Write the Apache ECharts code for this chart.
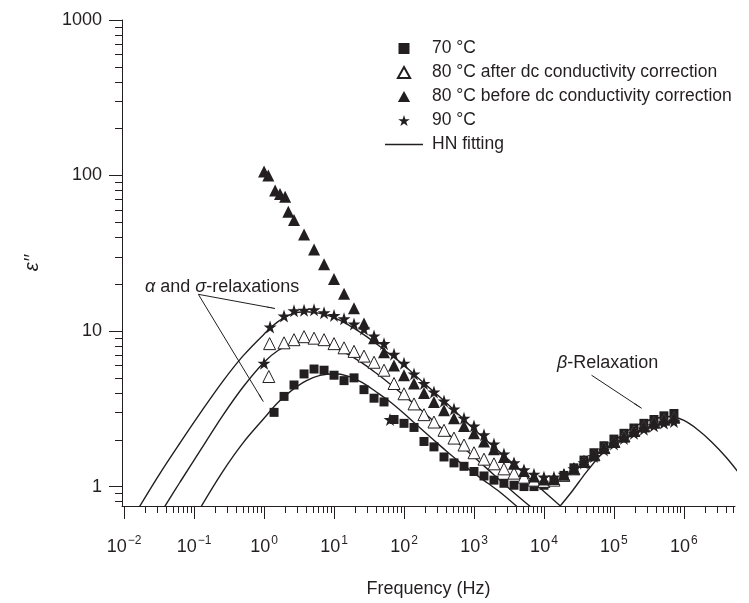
<!DOCTYPE html>
<html><head><meta charset="utf-8">
<script src="https://cdn.jsdelivr.net/npm/echarts@6/dist/echarts.min.js"></script>
<style>html,body{margin:0;padding:0;background:#fff}#c{width:749px;height:603px}</style>
</head><body><div id="c"></div>
<script>
// ---------- data ----------
const freqGrid = [1,1.39,1.93,2.68,3.73,5.18,7.2,10,13.9,19.3,26.8,37.3,51.8,72,100,139,193,268,373,518,720,1000,1390,1930,2680,3730,5180,7200,10000,13900,19300,26800,37300,51800,72000,100000,139000,193000,268000,373000,518000,720000];

const eps70 = [null,3.0,3.8,4.5,5.3,5.7,5.6,5.2,4.8,5.0,4.2,3.7,3.5,2.7,2.55,2.4,1.95,1.8,1.55,1.42,1.35,1.25,1.17,1.1,1.05,1.02,1.0,1.0,1.02,1.08,1.18,1.32,1.48,1.65,1.83,2.02,2.2,2.38,2.55,2.7,2.85,2.95];

const freq80after = [1.17,1.2,1.93,2.68,3.73,5.18,7.2,10,13.9,19.3,26.8,37.3,51.8,72,100,139,193,268,373,518,720,1000,1390,1930,2680,3730,5180,7200,10000,13900,19300,26800,37300,51800,72000,100000,139000,193000,268000,373000,518000,720000];
const eps80after = [5.1,8.3,8.4,8.8,9.2,9.0,8.8,8.3,7.8,7.4,6.9,6.3,5.6,4.6,3.95,3.4,2.9,2.6,2.3,2.05,1.85,1.65,1.5,1.4,1.3,1.22,1.15,1.1,1.08,1.1,1.18,1.3,1.45,1.6,1.78,1.95,2.12,2.3,2.46,2.6,2.72,2.8];

const freq80before = [1.0,1.15,1.44,1.69,2.0,2.22,2.68,3.73,5.18,7.2,10,13.9,19.3,26.8,37.3,51.8,72,100,139,193,268,373,518,720,1000,1390,1930,2680,3730,5180,7200,10000,13900,19300,26800,37300,51800,72000,100000,139000,193000,268000,373000,518000,720000];
const eps80before = [106,100,80,76,73,58.5,51.8,41.7,33.5,26.9,21.6,17.4,14.0,11.2,9.0,7.3,6.0,5.2,4.6,4.0,3.5,3.1,2.75,2.45,2.2,1.95,1.74,1.55,1.4,1.26,1.16,1.11,1.12,1.19,1.3,1.44,1.6,1.77,1.94,2.1,2.28,2.44,2.58,2.7,2.78];

const freq90 = [1.0,1.22,1.93,2.68,3.73,5.18,7.2,10,13.9,19.3,26.8,37.3,51.8,72,100,139,193,268,373,518,720,1000,1390,1930,2680,3730,5180,7200,10000,13900,19300,26800,37300,51800,72000,100000,139000,193000,268000,373000,518000,720000,63.1];
const eps90 = [6.2,10.6,12.5,13.5,13.6,13.7,13.1,12.6,12.0,11.1,10.3,9.3,8.3,7.1,6.2,5.3,4.6,4.05,3.55,3.15,2.75,2.45,2.15,1.88,1.62,1.42,1.28,1.2,1.15,1.15,1.2,1.3,1.42,1.56,1.72,1.88,2.04,2.2,2.34,2.46,2.56,2.62,2.7];

// HN fitting curves
const fit90Freq = [0.0158,0.0316,0.0631,0.126,0.251,0.501,1,1.58,2.51,3.98,6.31,10,15.8,25.1,39.8,63.1,100,158,251,398,631,1000,1580,2510,3980,6310,10000,17800];
const fit90Val  = [0.716,1.19,1.91,3.02,4.68,6.92,9.55,11.5,12.9,13.3,13.0,12.2,11.0,9.66,8.32,7.08,6.03,5.01,4.17,3.47,2.85,2.34,1.95,1.62,1.35,1.12,0.93,0.74];
const fit80Freq = [0.0355,0.0631,0.126,0.251,0.501,1,1.58,2.51,3.98,6.31,10,15.8,25.1,39.8,63.1,100,158,251,398,631,1000,1580,2510,3980,7080];
const fit80Val  = [0.708,1.07,1.74,2.82,4.37,6.31,7.5,8.32,8.61,8.41,7.85,7.08,6.24,5.37,4.57,3.85,3.24,2.69,2.24,1.86,1.55,1.29,1.07,0.89,0.716];
const fit70Freq = [0.12,0.251,0.501,1,1.58,2.51,3.98,6.31,10,15.8,25.1,39.8,63.1,100,158,251,398,631,1000,1580,2510,4470];
const fit70Val  = [0.716,1.23,1.91,2.75,3.47,4.17,4.79,5.19,5.31,5.13,4.68,4.07,3.51,2.95,2.45,2.04,1.70,1.43,1.22,1.05,0.90,0.72];
const fitBetaFreq = [15800,25100,39800,63100,100000,158000,251000,398000,631000,1000000,1580000,2510000,3980000,6310000];
const fitBetaVal  = [0.72,0.93,1.23,1.58,1.95,2.29,2.57,2.75,2.82,2.66,2.32,1.93,1.55,1.2];

// ticks
const xTickExponents = [-2,-1,0,1,2,3,4,5,6];
const yTickLabels = [1,10,100,1000];

// ---------- chart ----------
const INK = '#231f20';
const FONT = '"Liberation Sans", Arial, Helvetica, sans-serif';
const X_MIN = -2.03, X_MAX = 6.73, Y_MIN = Math.log10(0.75), Y_MAX = 3;

function pts(fs, vs){
  const out = [];
  for (let i = 0; i < vs.length; i++) if (vs[i] != null) out.push([Math.log10(fs[i]), Math.log10(vs[i])]);
  return out;
}
const xMajor = xTickExponents.slice();
const xMinor = [];
for (let e = -3; e <= 6; e++) for (let m = 2; m <= 9; m++) { const v = e + Math.log10(m); if (v > X_MIN && v < X_MAX) xMinor.push(v); }
const yMajor = yTickLabels.map(v => Math.log10(v));
const yMinor = [];
for (let e = -1; e <= 2; e++) for (let m = 2; m <= 9; m++) { const v = e + Math.log10(m); if (v > Y_MIN && v < Y_MAX) yMinor.push(v); }

const STAR = 'path://M50,0 L61.8,35.3 L98.9,35.3 L68.9,57.1 L80.4,92.7 L50,70.8 L19.6,92.7 L31.1,57.1 L1.1,35.3 L38.2,35.3 Z';
const SQUARE = 'path://M0,0 L10,0 L10,10 L0,10 Z';
const TRI = 'path://M5,0 L10,9 L0,9 Z';
const LINE_ICON = 'path://M0,5 L0,5 M4,4.3 L42,4.3 L42,5.7 L4,5.7 Z M46,5 L46,5';

const fitStyle = {type:'line', name:'HN fitting', symbol:'none', showSymbol:false, smooth:0.35,
  lineStyle:{color:INK, width:1.4}, itemStyle:{color:INK}, z:2, silent:true};

const chart = echarts.init(document.getElementById('c'), null, {renderer:'canvas'});
chart.setOption({
  animation:false,
  backgroundColor:'#fff',
  textStyle:{fontFamily:FONT},
  grid:{left:122, right:14, top:20, bottom:92, containLabel:false},
  legend:{
    orient:'vertical', left:376, top:34, itemWidth:46, itemHeight:11, itemGap:5,
    textStyle:{fontSize:17.5, color:INK, fontFamily:FONT, lineHeight:19},
    data:['70 °C','80 °C after dc conductivity correction','80 °C before dc conductivity correction','90 °C',
      {name:'HN fitting', icon:LINE_ICON}]
  },
  xAxis:[{
    type:'value', min:X_MIN, max:X_MAX, position:'bottom',
    axisLine:{show:true, onZero:false, lineStyle:{color:INK, width:1}},
    axisTick:{show:true, customValues:xMajor, length:13, lineStyle:{color:INK, width:1}},
    axisLabel:{customValues:xMajor, margin:32, color:INK,
      formatter:function(v){ const e = Math.round(v); return '{b|10}{s|' + (e < 0 ? '\u2212' + (-e) : e) + '}'; },
      rich:{ b:{fontSize:18, fontFamily:FONT, color:INK, lineHeight:18, verticalAlign:'bottom'},
             s:{fontSize:12, fontFamily:FONT, color:INK, lineHeight:12, verticalAlign:'bottom', padding:[0,0,9,1]} }},
    splitLine:{show:false},
    name:'Frequency (Hz)', nameLocation:'middle', nameGap:74,
    nameTextStyle:{fontSize:18, color:INK, fontFamily:FONT}
  },{
    type:'value', min:X_MIN, max:X_MAX, position:'bottom',
    axisLine:{show:false, onZero:false},
    axisTick:{show:true, customValues:xMinor, length:7, lineStyle:{color:INK, width:1}},
    axisLabel:{show:false}, splitLine:{show:false}
  }],
  yAxis:[{
    type:'value', min:Y_MIN, max:Y_MAX, position:'left',
    axisLine:{show:true, onZero:false, lineStyle:{color:INK, width:1}},
    axisTick:{show:true, customValues:yMajor, length:13, lineStyle:{color:INK, width:1}},
    axisLabel:{customValues:yMajor, margin:20, fontSize:18, color:INK, fontFamily:FONT,
      formatter:function(v){ return String(Math.round(Math.pow(10, v))); }},
    splitLine:{show:false},
    name:'\u03b5\u2032\u2032', nameLocation:'middle', nameGap:80,
    nameTextStyle:{fontSize:20, fontStyle:'italic', color:INK, fontFamily:FONT}
  },{
    type:'value', min:Y_MIN, max:Y_MAX, position:'left',
    axisLine:{show:false, onZero:false},
    axisTick:{show:true, customValues:yMinor, length:7, lineStyle:{color:INK, width:1}},
    axisLabel:{show:false}, splitLine:{show:false}
  }],
  series:[
    Object.assign({}, fitStyle, {data:pts(fit90Freq, fit90Val),
      markLine:{silent:true, animation:false, symbol:['none','arrow'], symbolSize:[1,9],
        lineStyle:{color:INK, width:1, type:'solid'}, label:{show:false}, emphasis:{disabled:true},
        data:[
          [{coord:[-0.939,1.236]},{coord:[0.157,1.145]}],
          [{coord:[-0.939,1.236]},{coord:[-0.01,0.546]}],
          [{coord:[4.68,0.716]},{coord:[5.396,0.503]}]
        ]}}),
    Object.assign({}, fitStyle, {data:pts(fit80Freq, fit80Val)}),
    Object.assign({}, fitStyle, {data:pts(fit70Freq, fit70Val)}),
    Object.assign({}, fitStyle, {data:pts(fitBetaFreq, fitBetaVal)}),
    {type:'scatter', name:'70 °C', symbol:SQUARE, symbolSize:9, z:3,
      itemStyle:{color:INK, opacity:1}, data:pts(freqGrid, eps70)},
    {type:'scatter', name:'80 °C after dc conductivity correction', symbol:TRI, symbolSize:12, z:3,
      itemStyle:{color:'#fff', borderColor:INK, borderWidth:1, opacity:1}, data:pts(freq80after, eps80after)},
    {type:'scatter', name:'80 °C before dc conductivity correction', symbol:TRI, symbolSize:12, z:3,
      itemStyle:{color:INK, opacity:1}, data:pts(freq80before, eps80before)},
    {type:'scatter', name:'90 °C', symbol:STAR, symbolSize:13, z:3,
      itemStyle:{color:INK, opacity:1}, data:pts(freq90, eps90)}
  ],
  graphic:[
    {type:'text', x:145, y:287, silent:true, style:{text:'{i|\u03b1} and {i|\u03c3}-relaxations',
      fontSize:18, fontFamily:FONT, fill:INK, verticalAlign:'middle',
      rich:{i:{fontStyle:'italic', fontSize:18, fontFamily:FONT, fill:INK}}}},
    {type:'text', x:557, y:363, silent:true, style:{text:'{i|\u03b2}-Relaxation',
      fontSize:18, fontFamily:FONT, fill:INK, verticalAlign:'middle',
      rich:{i:{fontStyle:'italic', fontSize:18, fontFamily:FONT, fill:INK}}}}
  ]
});
</script>
</body></html>
